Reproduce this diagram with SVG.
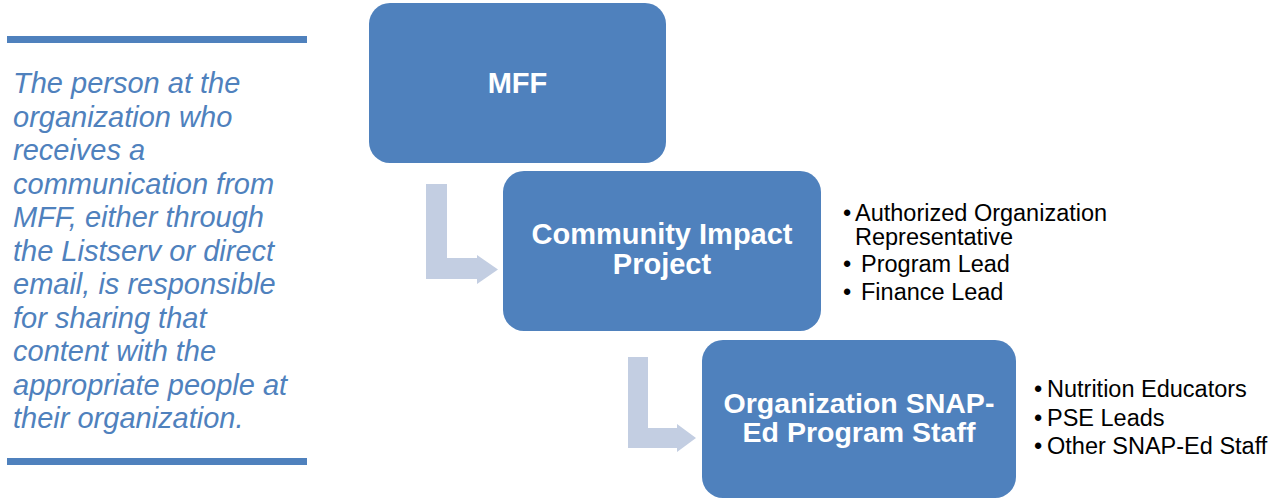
<svg xmlns="http://www.w3.org/2000/svg" width="1285" height="499" viewBox="0 0 1285 499">
  <style>
    .box { fill: #4F81BD; }
    .box-label { font-family: "Liberation Sans", Arial, sans-serif; font-weight: bold; font-size: 29px; fill: #FFFFFF; text-anchor: middle; }
    .note { font-family: "Liberation Sans", Arial, sans-serif; font-style: italic; font-size: 29px; fill: #4F81BD; }
    .rule { fill: #4F81BD; }
    .bullets { font-family: "Liberation Sans", Arial, sans-serif; font-size: 23.5px; fill: #000000; }
    .flow { fill: #C3CEE2; }
  </style>

  <!-- side note with rules above and below -->
  <g id="note">
    <rect class="rule" x="7" y="36" width="300" height="7"/>
    <text class="note" x="13">
      <tspan x="13" y="93">The person at the</tspan>
      <tspan x="13" y="126.5">organization who</tspan>
      <tspan x="13" y="160">receives a</tspan>
      <tspan x="13" y="193.5">communication from</tspan>
      <tspan x="13" y="227">MFF, either through</tspan>
      <tspan x="13" y="260.5">the Listserv or direct</tspan>
      <tspan x="13" y="294">email, is responsible</tspan>
      <tspan x="13" y="327.5">for sharing that</tspan>
      <tspan x="13" y="361">content with the</tspan>
      <tspan x="13" y="394.5">appropriate people at</tspan>
      <tspan x="13" y="428">their organization.</tspan>
    </text>
    <rect class="rule" x="7" y="458" width="300" height="7"/>
  </g>

  <!-- bent flow arrows between levels -->
  <g id="connectors">
    <path class="flow" d="M426,184 H447 V258 H477 V255 L498,269.5 L477,284 V279 H426 Z"/>
    <path class="flow" d="M628,357 H648 V428 H677 V424 L696,438 L677,452 V448 H628 Z"/>
  </g>

  <g id="node-mff">
    <rect class="box" x="369" y="3" width="297" height="160" rx="21" ry="21"/>
    <text class="box-label" x="517.5" y="93">MFF</text>
  </g>

  <g id="node-cip">
    <rect class="box" x="503" y="171" width="318" height="160" rx="21" ry="21"/>
    <text class="box-label" x="662" y="244">Community Impact</text>
    <text class="box-label" x="662" y="274">Project</text>
  </g>

  <g id="node-staff">
    <rect class="box" x="702" y="340" width="314" height="158" rx="21" ry="21"/>
    <text class="box-label" x="859" y="413" style="font-size:28.5px">Organization SNAP-</text>
    <text class="box-label" x="859" y="442" style="font-size:28.5px">Ed Program Staff</text>
  </g>

  <g id="list-cip">
    <text class="bullets" x="843" y="221">•</text>
    <text class="bullets" x="855" y="221">Authorized Organization</text>
    <text class="bullets" x="855" y="245">Representative</text>
    <text class="bullets" x="843" y="272">•</text>
    <text class="bullets" x="861" y="272">Program Lead</text>
    <text class="bullets" x="843" y="300">•</text>
    <text class="bullets" x="861" y="300">Finance Lead</text>
  </g>

  <g id="list-staff">
    <text class="bullets" x="1034" y="397">•</text>
    <text class="bullets" x="1047" y="397">Nutrition Educators</text>
    <text class="bullets" x="1034" y="425.5">•</text>
    <text class="bullets" x="1047" y="425.5">PSE Leads</text>
    <text class="bullets" x="1034" y="454">•</text>
    <text class="bullets" x="1047" y="454">Other SNAP-Ed Staff</text>
  </g>
</svg>
